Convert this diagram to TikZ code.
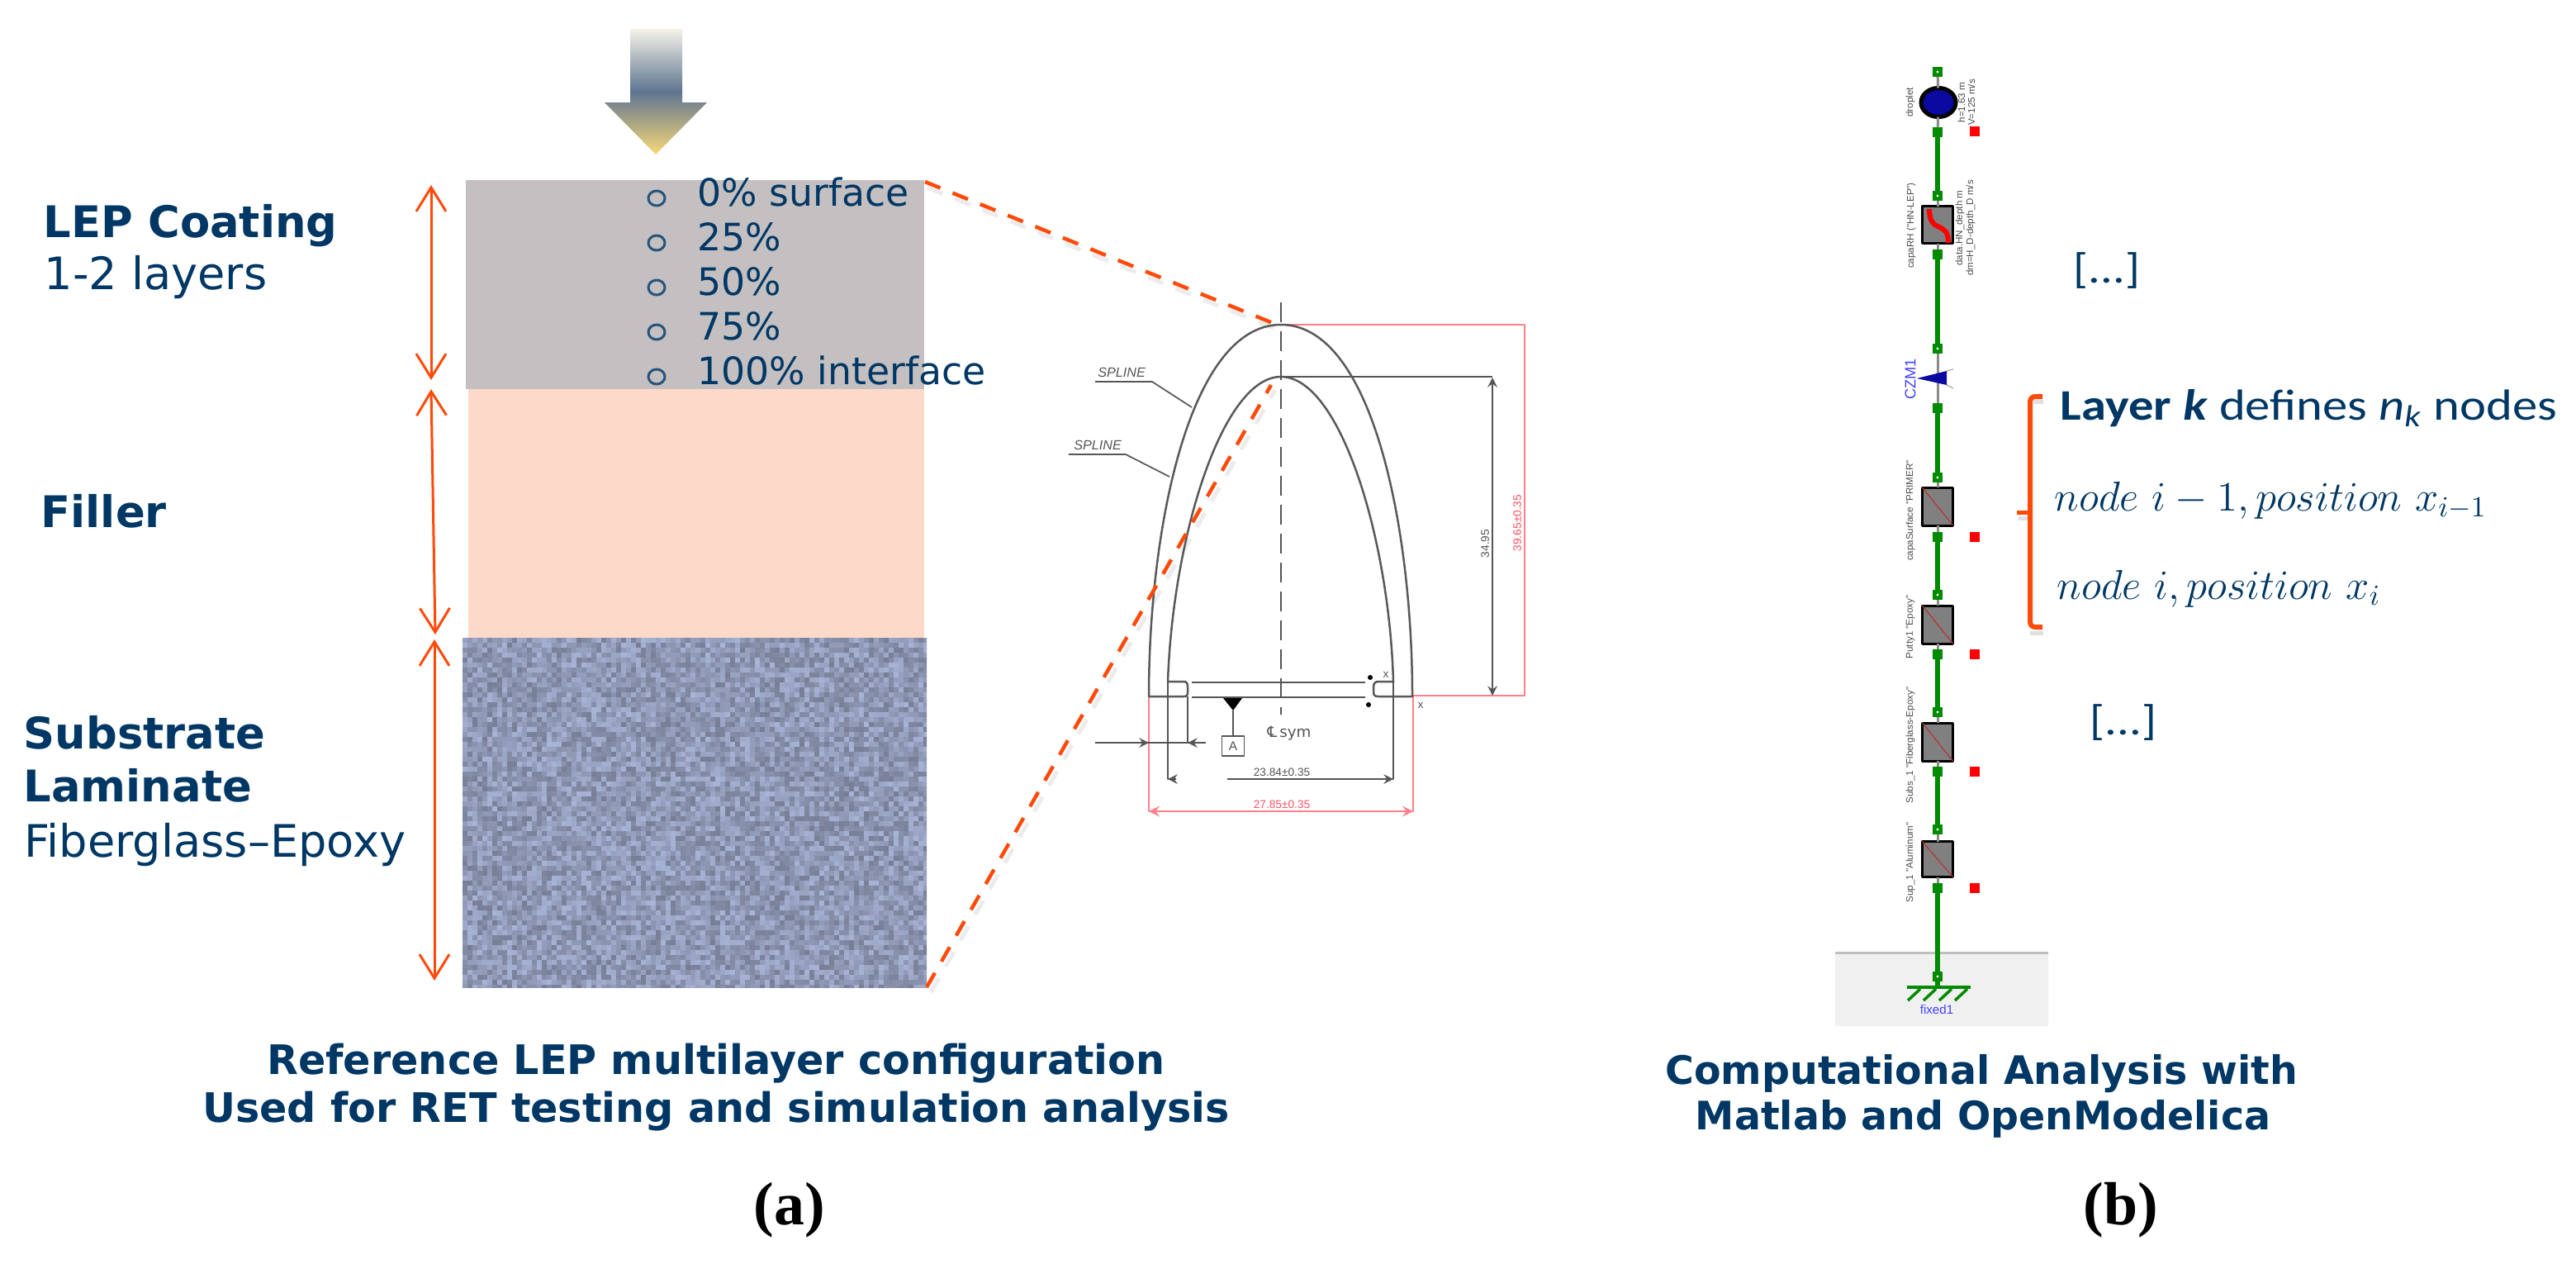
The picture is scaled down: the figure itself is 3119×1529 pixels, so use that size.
\documentclass[tikz,border=0pt]{standalone}
\usepackage{fontspec}
\usepackage{amsmath,amssymb}
\usepackage{xcolor}
\usetikzlibrary{calc,arrows.meta,shapes.geometric}
\setmainfont{DejaVu Sans}
\newfontfamily\notefont[FakeStretch=1.15]{Carlito}
\newfontfamily\tagfont{Liberation Serif}
\newfontfamily\cadfont{Liberation Sans}
\definecolor{navy}{HTML}{003764}
\definecolor{burnt}{HTML}{FF4A0A}
\definecolor{coatgray}{HTML}{C4BFC0}
\definecolor{peach}{HTML}{FDD9C9}
\definecolor{weavelight}{HTML}{A8B4D6}
\definecolor{weavedark}{HTML}{777E96}
\definecolor{cadred}{HTML}{FF8088}
\definecolor{cadredtext}{HTML}{FF5060}
\definecolor{cadgray}{HTML}{555555}
\definecolor{portgreen}{HTML}{008A00}
\definecolor{markblue}{HTML}{0A0AA0}
\definecolor{labelblue}{HTML}{4040FF}
\definecolor{arrowtop}{HTML}{F5F2E8}
\definecolor{arrowmid}{HTML}{5F7590}
\definecolor{arrowtip}{HTML}{F8D878}
\begin{document}
\begin{tikzpicture}[x=0.01cm, y=-0.01cm, line join=round, >=stealth,
 txt/.style={anchor=base west, inner sep=0pt, text=navy},
 heading/.style={txt, font=\fontsize{15}{18}\selectfont\bfseries},
 plain/.style={txt, font=\fontsize{15.4}{18}\selectfont},
 listitem/.style={txt, font=\fontsize{13}{16}\selectfont},
 caption/.style={anchor=base, inner sep=0pt, text=navy, font=\fontsize{14}{16}\selectfont\bfseries},
 tagtext/.style={anchor=center, inner sep=0pt, font=\tagfont\fontsize{21}{24}\selectfont\bfseries},
 span/.style={<->, >={Straight Barb[length=2.9mm,width=3.6mm]}, burnt, line width=0.03cm},
 zoomline/.style={burnt, line width=0.045cm, dash pattern=on 0.2cm off 0.16cm},
 zoomshade/.style={black!30, opacity=0.25, line width=0.05cm, dash pattern=on 0.2cm off 0.16cm},
 cad/.style={cadgray, line width=0.017cm},
 cadr/.style={cadred, line width=0.022cm},
 cadtext/.style={inner sep=0pt, text=cadgray, font=\cadfont\fontsize{3.9}{4}\selectfont},
 openport/.style={fill=portgreen, minimum size=0.12cm, inner sep=0pt, outer sep=0pt,
  path picture={\fill[white] (path picture bounding box.center) circle (0.016cm);}},
 solidport/.style={fill=portgreen, minimum size=0.125cm, inner sep=0pt, outer sep=0pt},
 redmark/.style={fill=red, minimum size=0.125cm, inner sep=0pt},
 layerbox/.style={draw=black, fill=black!50, line width=0.03cm, minimum width=0.37cm, inner sep=0pt, outer sep=0pt},
 stub/.style={black!45, line width=0.03cm},
 link/.style={portgreen, line width=0.055cm},
 chaintext/.style={inner sep=0pt, text=black!70, rotate=90, font=\cadfont\fontsize{3.3}{4}\selectfont}]
 \useasboundingbox (0,0) rectangle (3119,1529);
 % Layers
 \fill[coatgray] (564,218) rectangle (1119,471);
 \fill[peach] (567,471) rectangle (1119,772);
 \begin{scope}
 \clip (560,772) rectangle (1122,1195);
 \pgfmathsetseed{11}
 \foreach \i in {0,...,93}{
  \foreach \j in {0,...,70}{
   \pgfmathtruncatemacro{\mixval}{100*rnd}
   \fill[weavelight!\mixval!weavedark] ({560+\i*6},{772+\j*6}) rectangle +(6.3,6.3);
  }
 }
 \end{scope}
 % Impact arrow
 \shade[top color=arrowtop, bottom color=arrowtip, middle color=arrowmid]
  (763,35) -- (826,35) -- (826,124) -- (856,124) -- (794,187) -- (732,124) -- (763,124) -- cycle;
 % Left labels
 \node[heading] (coatname) at (52,287) {LEP Coating};
 \node[plain] (coatnote) at (53,350) {1-2 layers};
 \node[heading] (fillername) at (49,638) {Filler};
 \node[heading] (subname) at (28,906) {Substrate};
 \node[heading] (lamname) at (28,970) {Laminate};
 \node[plain] (subnote) at (29,1037) {Fiberglass--Epoxy};
 \coordinate (a1) at (522,224); \coordinate (a2) at (522,460);
 \coordinate (b1) at (522,471); \coordinate (b2) at (527,768);
 \coordinate (c1) at (526,774); \coordinate (c2) at (526,1187);
 \draw[span] (a1) -- (a2);
 \draw[span] (b1) -- (b2);
 \draw[span] (c1) -- (c2);
 % Positions in coating
 \foreach \n/\y/\s in {0/249/0\% surface,1/303/25\%,2/357/50\%,3/411/75\%,4/465/100\% interface}{
  \node[listitem] (item\n) at (844,\y) {\s};
  \draw[navy!85, line width=0.03cm] (795,{\y-9}) ellipse (10 and 9);
 }
 % Zoom lines
 \coordinate (zoomA) at (1120,220); \coordinate (zoomB) at (1541,391);
 \coordinate (zoomC) at (1122,1195); \coordinate (zoomD) at (1539,466);
 \draw[zoomshade] ($(zoomA)+(3,7)$) -- ($(zoomB)+(3,7)$);
 \draw[zoomshade] ($(zoomC)+(5,6)$) -- ($(zoomD)+(5,6)$);
 % Section drawing
 \draw[cadr] (1551,393) -- (1846,393) -- (1846,842) -- (1710,842);
 \draw[cadr] (1391,843) -- (1391,982) -- (1711,982) -- (1711,843);
 \draw[cad] (1551,456) -- (1807,456);
 \draw[cad, <->] (1807,457) -- (1807,842);
 \draw[black!65, line width=0.025cm] (1391,843) .. controls (1391,640) and (1440,393) .. (1551,393)
  .. controls (1662,393) and (1710,640) .. (1710,843) -- (1669,843)
  .. controls (1665,843) and (1663,842) .. (1663,838) -- (1663,832)
  .. controls (1663,827) and (1665,825) .. (1669,825) -- (1687,825)
  .. controls (1682,650) and (1622,456) .. (1551,456)
  .. controls (1480,456) and (1420,650) .. (1414,825) -- (1433,825)
  .. controls (1437,825) and (1438,827) .. (1438,832) -- (1438,838)
  .. controls (1438,842) and (1437,843) .. (1433,843) -- cycle;
 \draw[cad, dash pattern=on 0.24cm off 0.11cm, line width=0.02cm] (1551,366) -- (1551,865);
 \draw[cad] (1443,826) -- (1653,826) (1443,844) -- (1653,844);
 \fill[black] (1659,820) circle (3) (1657,853) circle (3);
 \draw[cad] (1414,825) -- (1414,943) -- (1424,943) (1486,943) -- (1687,943) -- (1687,825) (1438,843) -- (1438,899);
 \draw[cad] (1326,899) -- (1460,899);
 \draw[cad, ->] (1326,899) -- (1391,899);
 \draw[cad, ->] (1460,899) -- (1438,899);
 \draw[cad, ->] (1424,943) -- (1414,943);
 \draw[cad, ->] (1660,943) -- (1687,943);
 \draw[cadr, <->] (1391,982) -- (1711,982);
 \fill[black] (1481,845) -- (1504,845) -- (1493,860) -- cycle;
 \node[draw=cadgray, line width=0.012cm, minimum width=0.27cm, minimum height=0.24cm, inner sep=0pt, text=cadgray,
  font=\cadfont\fontsize{4.4}{5}\selectfont] (datumbox) at (1493,903) {A};
 \draw[cad] (1493,860) -- (datumbox);
 \node[cadtext, font=\fontsize{5.2}{6}\selectfont] (symtext) at (1561,888) {℄\,sym};
 \node[cadtext] (innerdim) at (1552,935) {23.84±0.35};
 \node[cadtext, text=cadredtext] (outerdim) at (1552,974) {27.85±0.35};
 \node[cadtext, rotate=90] (heightA) at (1798,658) {34.95};
 \node[cadtext, rotate=90, text=cadredtext] (heightB) at (1837,633) {39.65±0.35};
 \node[cadtext] (crossA) at (1678,817) {x};
 \node[cadtext] (crossB) at (1720,854) {x};
 \node[cadtext, font=\cadfont\itshape\fontsize{4.6}{5}\selectfont] (splineA) at (1358,451) {SPLINE};
 \node[cadtext, font=\cadfont\itshape\fontsize{4.6}{5}\selectfont] (splineB) at (1329,539) {SPLINE};
 \draw[cad] (1326,462) -- (1395,462) -- (1443,493);
 \draw[cad] (1294,550) -- (1363,550) -- (1416,577);
 \draw[zoomline] (zoomA) -- (zoomB);
 \draw[zoomline] (zoomC) -- (zoomD);
 % Ground panel
 \fill[black!6] (2222,1153) rectangle (2480,1242);
 \draw[black!25, line width=0.03cm] (2222,1153) -- (2480,1153);
 % Model chain
 \foreach \n/\yt/\yb in {0/87/160,1/237/308,2/422/494,3/578/650,4/720/792,5/862/934,6/1004/1075}{
  \node[openport] (open\n) at (2346,\yt) {};
  \node[solidport] (solid\n) at (2346,\yb) {};
 }
 \node[openport] (open7) at (2346,1182) {};
 \node[draw=black, fill=markblue, ellipse, line width=0.05cm, minimum width=0.42cm, minimum height=0.35cm, inner sep=0pt, outer sep=0pt] (body0) at (2347,124) {};
 \node[layerbox, minimum height=0.45cm] (body1) at (2346,272) {};
 \coordinate (body2) at (2346,458);
 \foreach \n/\y/\h in {3/613/0.46cm,4/756/0.46cm,5/898/0.46cm,6/1040/0.43cm}{
  \node[layerbox, minimum height=\h] (body\n) at (2346,\y) {};
  \draw[red!65!black!80, line width=0.012cm] (body\n.north west) -- (body\n.south east);
 }
 \draw[red, line width=0.06cm] (2336,253) .. controls (2336,285) and (2359,265) .. (2359,294);
 \foreach \n in {0,...,6}{
  \draw[stub] (open\n) -- (body\n);
  \draw[stub] (body\n) -- (solid\n);
 }
 \foreach \n/\m in {0/1,1/2,2/3,3/4,4/5,5/6,6/7}{
  \draw[link] (solid\n) -- (open\m);
 }
 \fill[markblue] (2321,458) -- (2357,449) -- (2357,466) -- cycle;
 \draw[black!40, line width=0.01cm] (2357,449) -- (2365,447) (2357,466) -- (2365,470);
 \foreach \n/\y in {0/159,3/650,4/792,5/934,6/1075}{
  \node[redmark] (flag\n) at (2391,\y) {};
 }
 % Ground symbol
 \coordinate (gnd) at (2346,1195);
 \draw[link] (open7) -- (gnd);
 \draw[portgreen, line width=0.035cm] (2309,1195) -- (2386,1195);
 \foreach \x in {2325,2344,2363,2382}{
  \draw[portgreen, line width=0.035cm] (\x,1197) -- ({\x-15},1211);
 }
 \node[inner sep=0pt, text=labelblue, font=\cadfont\fontsize{4.3}{5}\selectfont] (fixedname) at (2345,1222) {fixed1};
 \node[inner sep=0pt, text=labelblue, rotate=90, font=\cadfont\fontsize{5.2}{6}\selectfont] (czmname) at (2313,459) {CZM1};
 \node[chaintext] (dropname) at (2313,124) {droplet};
 \node[chaintext] (dropvalA) at (2375,124) {h=1.63 m};
 \node[chaintext] (dropvalB) at (2387,124) {V=125 m/s};
 \node[chaintext] (capname) at (2314,273) {capaRH ("HN-LEP")};
 \node[chaintext] (capvalA) at (2373,276) {data.HN\_depth m};
 \node[chaintext] (capvalB) at (2386,276) {dm=H\_D-depth\_D m/s};
 \node[chaintext] (primername) at (2313,618) {capaSurface "PRIMER"};
 \node[chaintext] (puttyname) at (2313,759) {Putty1 "Epoxy"};
 \node[chaintext] (subsname) at (2313,902) {Subs\_1 "Fiberglass-Epoxy"};
 \node[chaintext] (supname) at (2313,1044) {Sup\_1 "Aluminum"};
 % Notes on the right
 \node[txt, font=\notefont\fontsize{14.5}{19}\selectfont] (gapA) at (2510,342) {[...]};
 \node[txt, font=\notefont\fontsize{14.5}{19}\selectfont] (gapB) at (2530,889) {[...]};
 \coordinate (brTop) at (2473,480); \coordinate (brBot) at (2473,759);
 \coordinate (brTip) at (2442,620);
 \draw[black!30, opacity=0.4, line width=0.05cm] (2462,486) -- (2474,486) (2444,627) -- (2456,627) (2458,766) -- (2474,766);
 \draw[burnt, line width=0.06cm, rounded corners=0.06cm] (brTop) -- (2458,480) -- (2458,759) -- (brBot);
 \draw[burnt, line width=0.05cm] (brTip) -- (2458,620);
 \node[txt, font=\notefont\fontsize{15}{19}\selectfont] (layerline) at (2494,508)
  {\textbf{Layer \textit{k}} defines \textit{n}\textsubscript{\textit{k}} nodes};
 \node[txt, font=\fontsize{14}{18}\selectfont] (nodeprev) at (2487,618) {$node\ i-1, position\ x_{i-1}$};
 \node[txt, font=\fontsize{14}{18}\selectfont] (nodecur) at (2490,725) {$node\ i, position\ x_i$};
 % Captions
 \node[caption] (capAone) at (867,1300) {Reference LEP multilayer configuration};
 \node[caption] (capAtwo) at (867,1358) {Used for RET testing and simulation analysis};
 \node[caption, font=\fontsize{13.5}{16}\selectfont\bfseries] (capBone) at (2399,1312) {Computational Analysis with};
 \node[caption, font=\fontsize{13.5}{16}\selectfont\bfseries] (capBtwo) at (2401,1367) {Matlab and OpenModelica};
 \node[tagtext] (taga) at (956,1465) {(a)};
 \node[tagtext] (tagb) at (2568,1465) {(b)};
\end{tikzpicture}
\end{document}
